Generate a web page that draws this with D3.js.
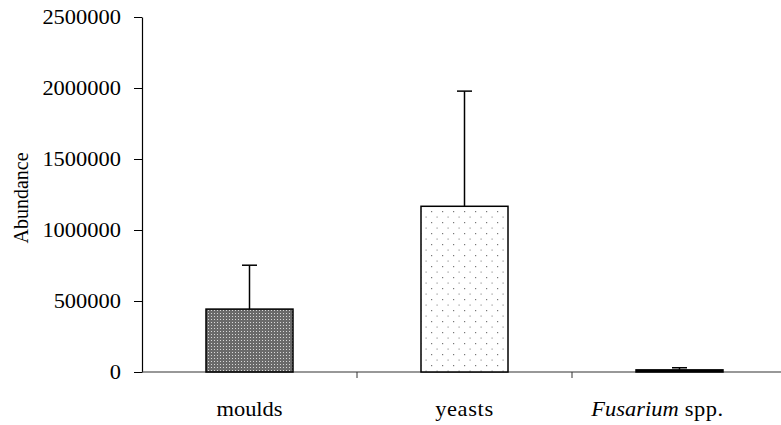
<!DOCTYPE html>
<html>
<head>
<meta charset="utf-8">
<script src="https://cdn.jsdelivr.net/npm/d3@7"></script>
</head>
<body style="margin:0;background:#fff">
<script>
var categories = ["moulds", "yeasts", "Fusarium spp."];
var means = [443000, 1167000, 15000];
var errTops = [752000, 1978000, 30000];
var yTicks = [0, 500000, 1000000, 1500000, 2000000, 2500000];

var width = 781, height = 425;
var margin = {left: 142, right: 0, top: 17, bottom: 53};
var serif = "Liberation Serif";
var stretch = 1.07;

var svg = d3.select("body").append("svg")
    .attr("width", width)
    .attr("height", height);

var defs = svg.append("defs");

// dense dark dotted fill for moulds
var p1 = defs.append("pattern")
    .attr("id", "dense")
    .attr("patternUnits", "userSpaceOnUse")
    .attr("width", 3).attr("height", 3);
p1.append("rect").attr("width", 3).attr("height", 3).attr("fill", "#6a6a6a");
p1.append("rect").attr("x", 1).attr("y", 1).attr("width", 1).attr("height", 1).attr("fill", "#d8d8d8");

// sparse dots for yeasts
var p2 = defs.append("pattern")
    .attr("id", "sparse")
    .attr("patternUnits", "userSpaceOnUse")
    .attr("width", 11).attr("height", 11);
p2.append("rect").attr("width", 11).attr("height", 11).attr("fill", "#fff");
p2.append("rect").attr("x", 2).attr("y", 2).attr("width", 1.2).attr("height", 1.2).attr("fill", "#777");
p2.append("rect").attr("x", 7.5).attr("y", 7.5).attr("width", 1.2).attr("height", 1.2).attr("fill", "#999");

var fills = ["url(#dense)", "url(#sparse)", "#000"];

var x = d3.scaleBand()
    .domain(categories)
    .range([margin.left, margin.left + 215 * 3])
    .paddingInner(0)
    .paddingOuter(0);

var y = d3.scaleLinear()
    .domain([0, 2500000])
    .range([height - margin.bottom, margin.top]);

var barW = 87;

// y axis
var yAxis = svg.append("g")
    .attr("transform", "translate(" + margin.left + ",0)")
    .call(d3.axisLeft(y).tickValues(yTicks).tickSize(8).tickPadding(13).tickSizeOuter(0)
        .tickFormat(d3.format("d")));
yAxis.attr("font-family", serif).attr("font-size", 21);
yAxis.select(".domain").attr("stroke", "#000").attr("stroke-width", 1.2);
yAxis.selectAll(".tick line").attr("stroke", "#000");
yAxis.selectAll("text")
    .attr("fill", "#000")
    .attr("x", 0)
    .attr("transform", "translate(-21,0) scale(" + stretch + ",1)");

// x axis line
svg.append("line")
    .attr("x1", margin.left).attr("x2", width)
    .attr("y1", y(0)).attr("y2", y(0))
    .attr("stroke", "#333").attr("stroke-width", 1.2);

// category boundary ticks
svg.selectAll(".ctick")
    .data(categories.slice(1))
    .enter().append("line")
    .attr("x1", function(d){ return x(d); })
    .attr("x2", function(d){ return x(d); })
    .attr("y1", y(0)).attr("y2", y(0) + 6)
    .attr("stroke", "#333");

// error bars
svg.selectAll(".err")
    .data(categories)
    .enter().append("line")
    .attr("x1", function(d){ return x(d) + x.bandwidth() / 2; })
    .attr("x2", function(d){ return x(d) + x.bandwidth() / 2; })
    .attr("y1", function(d, i){ return y(means[i]); })
    .attr("y2", function(d, i){ return y(errTops[i]); })
    .attr("stroke", "#000").attr("stroke-width", 1.5);

svg.selectAll(".cap")
    .data(categories)
    .enter().append("line")
    .attr("x1", function(d){ return x(d) + x.bandwidth() / 2 - 7.5; })
    .attr("x2", function(d){ return x(d) + x.bandwidth() / 2 + 7.5; })
    .attr("y1", function(d, i){ return y(errTops[i]); })
    .attr("y2", function(d, i){ return y(errTops[i]); })
    .attr("stroke", "#000").attr("stroke-width", 1.5);

// bars
svg.selectAll(".bar")
    .data(categories)
    .enter().append("rect")
    .attr("x", function(d){ return x(d) + (x.bandwidth() - barW) / 2; })
    .attr("y", function(d, i){ return y(means[i]); })
    .attr("width", barW)
    .attr("height", function(d, i){ return y(0) - y(means[i]); })
    .attr("fill", function(d, i){ return fills[i]; })
    .attr("stroke", "#000").attr("stroke-width", 1.5);

// category labels (last one sits a bit left of its band in the original)
var labelShift = [0, 0, -22];
var labels = svg.selectAll(".clab")
    .data(categories)
    .enter().append("text")
    .attr("transform", function(d, i){
        return "translate(" + (x(d) + x.bandwidth() / 2 + labelShift[i]) + ",416) scale(" + stretch + ",1)";
    })
    .attr("text-anchor", "middle")
    .attr("fill", "#000")
    .attr("font-family", serif)
    .attr("font-size", 21);

labels.each(function(d){
    var t = d3.select(this);
    if (d.indexOf("Fusarium") === 0) {
        t.append("tspan").attr("font-style", "italic").text("Fusarium");
        t.append("tspan").attr("letter-spacing", "0.5px").text(" spp.");
    } else if (d === "yeasts") {
        t.attr("letter-spacing", "0.6px").text(d);
    } else {
        t.text(d);
    }
});

// y axis title
svg.append("text")
    .attr("transform", "translate(28,198) rotate(-90)")
    .attr("text-anchor", "middle")
    .attr("fill", "#000")
    .attr("font-family", serif)
    .attr("font-size", 20)
    .text("Abundance");
</script>
</body>
</html>
